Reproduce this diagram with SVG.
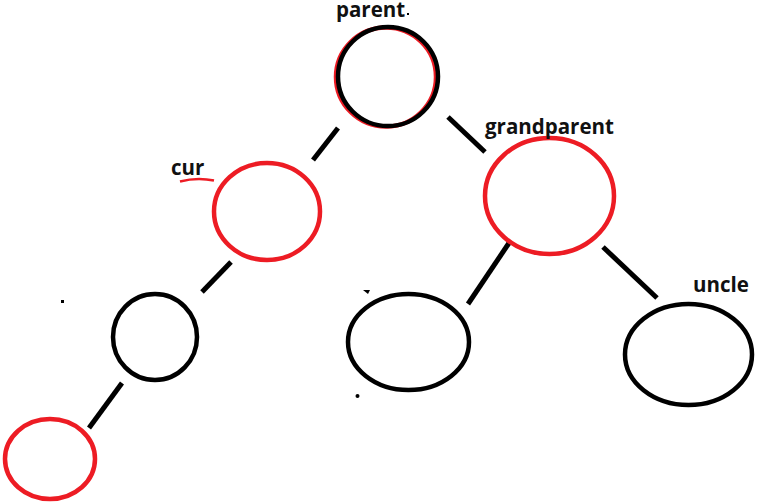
<svg xmlns="http://www.w3.org/2000/svg" width="761" height="503" viewBox="0 0 761 503">
<style>
.n{fill:none;stroke-width:4.5}
.b{stroke:#000}
.r{stroke:#ED1C24}
.e line{stroke:#000;stroke-width:5;stroke-linecap:butt}
text{font-family:"Open Sans","Noto Sans","Liberation Sans",sans-serif;font-weight:bold;font-size:20.5px;fill:#111}
</style>
<rect width="761" height="503" fill="#fff"/>
<g id="connectors" class="e">
<line x1="338" y1="128" x2="313" y2="160"/>
<line x1="448" y1="117" x2="485" y2="152"/>
<line x1="231" y1="262" x2="202" y2="292"/>
<line x1="122" y1="383" x2="89" y2="428"/>
<line x1="509" y1="243" x2="468" y2="304"/>
<line x1="603" y1="247" x2="657" y2="298"/>
</g>
<g id="parent">
<ellipse class="n r" cx="386" cy="77" rx="50" ry="49.5" stroke-width="3"/>
<ellipse class="n b" cx="388" cy="76.5" rx="50" ry="49.5"/>
<text x="336" y="17">parent</text>
<rect x="407" y="13" width="2" height="2" fill="#000"/>
</g>
<g id="cur">
<ellipse class="n r" cx="267" cy="211.5" rx="53" ry="48.5"/>
<text x="171" y="175">cur</text>
<path d="M180 181.5 Q197 177 214 180.5" fill="none" stroke="#ED1C24" stroke-width="2.5"/>
</g>
<g id="grandparent">
<ellipse class="n r" cx="549.5" cy="196" rx="64.5" ry="58"/>
<text x="485" y="134">grandparent</text>
</g>
<g id="leftchild">
<ellipse class="n b" cx="155" cy="337" rx="42" ry="43"/>
<rect x="61" y="300" width="3" height="3" fill="#000"/>
</g>
<g id="newnode">
<ellipse class="n r" cx="50" cy="459" rx="45" ry="40"/>
</g>
<g id="sibling">
<ellipse class="n b" cx="408.5" cy="342" rx="60.5" ry="48"/>
<path d="M363 290 L370 290 L368 294 Z" fill="#000"/>
<circle cx="357.5" cy="396" r="2" fill="#000"/>
</g>
<g id="uncle">
<ellipse class="n b" cx="688.5" cy="354.5" rx="63.5" ry="50.5"/>
<text x="693" y="292">uncle</text>
</g>
</svg>
